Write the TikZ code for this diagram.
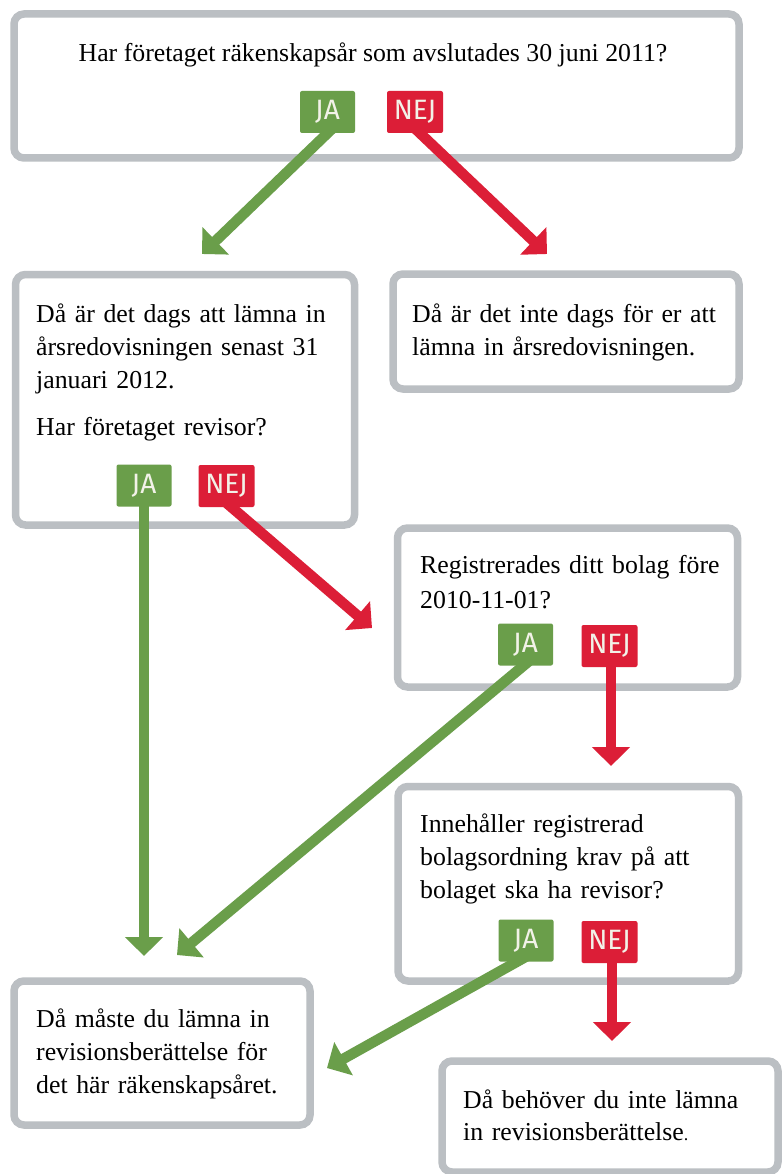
\documentclass[tikz,border=0pt]{standalone}
\usepackage{fontspec}
\setmainfont{Liberation Serif}
\newfontfamily\labfont{Fira Sans}
\usetikzlibrary{arrows.meta}
\definecolor{boxgray}{RGB}{187,191,195}
\definecolor{jagreen}{RGB}{106,158,74}
\definecolor{nejred}{RGB}{220,30,55}
\definecolor{labtext}{RGB}{242,242,232}
\pgfdeclarelayer{boxlayer}
\pgfdeclarelayer{arrowlayer}
\pgfsetlayers{boxlayer,arrowlayer,main}
\begin{document}
\begin{tikzpicture}[x=1pt,y=-1pt,
  frame/.style={draw=boxgray,line width=7.5pt,rounded corners=10pt,fill=white,inner sep=0pt},
  body/.style={anchor=base west,inner sep=0pt,text width=360pt,align=left,font=\fontsize{25.8}{33}\selectfont},
  lab/.style={text=labtext,font=\labfont\fontsize{28}{28}\selectfont,minimum height=42pt,inner sep=0pt,rounded corners=2pt},
  jalab/.style={lab,fill=jagreen,minimum width=55pt},
  nejlab/.style={lab,fill=nejred,minimum width=56pt},
  garrow/.style={draw=jagreen,line width=10.5pt,-{Triangle[length=19pt,width=37pt]}},
  rarrow/.style={draw=nejred,line width=10.5pt,-{Triangle[length=19pt,width=37pt]}}]
\useasboundingbox (0,0) rectangle (783,1174);
\begin{pgfonlayer}{boxlayer}
\fill[white] (0,0) rectangle (783,1174);
\node[frame,minimum width=725pt,minimum height=144pt] (b1) at (376.5,86) {};
\node[frame,minimum width=339pt,minimum height=250.5pt] (b2) at (185,399.75) {};
\node[frame,minimum width=346pt,minimum height=115pt] (b3) at (566,331.5) {};
\node[frame,minimum width=340pt,minimum height=159pt] (b4) at (567.5,607.5) {};
\node[frame,minimum width=340.5pt,minimum height=194.5pt] (b5) at (568.25,883.75) {};
\node[frame,minimum width=296pt,minimum height=144pt] (b6) at (162,1053) {};
\node[frame,minimum width=336pt,minimum height=111pt] (b7) at (610,1116.5) {};
\end{pgfonlayer}
% texts
\node[anchor=base,inner sep=0pt,font=\fontsize{25.8}{33}\selectfont] (t1) at (373,62) {Har företaget räkenskapsår som avslutades 30 juni 2011?};
\node[body] (t2) at (36,322) {Då är det dags att lämna in\\ årsredovisningen senast 31\\ januari 2012.\\[14pt] Har företaget revisor?};
\node[body] (t3) at (412,322) {Då är det inte dags för er att\\ lämna in årsredovisningen.};
\node[body] (t4) at (420,573) {Registrerades ditt bolag före\\[2pt] 2010-11-01?};
\node[body] (t5) at (420,832) {Innehåller registrerad\\ bolagsordning krav på att\\ bolaget ska ha revisor?};
\node[body] (t6) at (36,1027) {Då måste du lämna in\\ revisionsberättelse för\\ det här räkenskapsåret.};
\node[body] (t7) at (463,1108) {Då behöver du inte lämna\\[-1pt] in revisionsberättelse{\fontsize{18}{18}\selectfont .}};
% labels
\node[jalab] (ja1) at (327.5,112) {JA};
\node[nejlab] (nej1) at (415,112) {NEJ};
\node[jalab] (ja2) at (144,485.5) {JA};
\node[nejlab] (nej2) at (226.5,486) {NEJ};
\node[jalab] (ja4) at (525.5,644.5) {JA};
\node[nejlab] (nej4) at (609.5,646) {NEJ};
\node[jalab] (ja5) at (526,940.5) {JA};
\node[nejlab] (nej5) at (609.5,942) {NEJ};
% arrow ends
\coordinate (e1) at (202,254);
\coordinate (e2) at (547,254);
\coordinate (e3) at (144,956);
\coordinate (e4) at (372,628);
\coordinate (e5) at (177,955);
\coordinate (e6) at (611,766);
\coordinate (e7) at (327,1068);
\coordinate (e8) at (612,1041);
\begin{pgfonlayer}{arrowlayer}
\draw[garrow,shorten <=-12pt] (ja1.south) -- (e1);
\draw[rarrow,shorten <=-12pt] ([xshift=5pt]nej1.south) -- (e2);
\draw[garrow,shorten <=-6pt] (ja2.south) -- (e3);
\draw[rarrow,shorten <=-12pt] ([xshift=5pt]nej2.south) -- (e4);
\draw[garrow,shorten <=-12pt] ([xshift=-2pt]ja4.south) -- (e5);
\draw[rarrow,shorten <=-6pt] ([xshift=1.5pt]nej4.south) -- (e6);
\draw[garrow,shorten <=-12pt] ([xshift=-9pt]ja5.south) -- (e7);
\draw[rarrow,shorten <=-6pt] ([xshift=2.5pt]nej5.south) -- (e8);
\end{pgfonlayer}
\end{tikzpicture}
\end{document}
